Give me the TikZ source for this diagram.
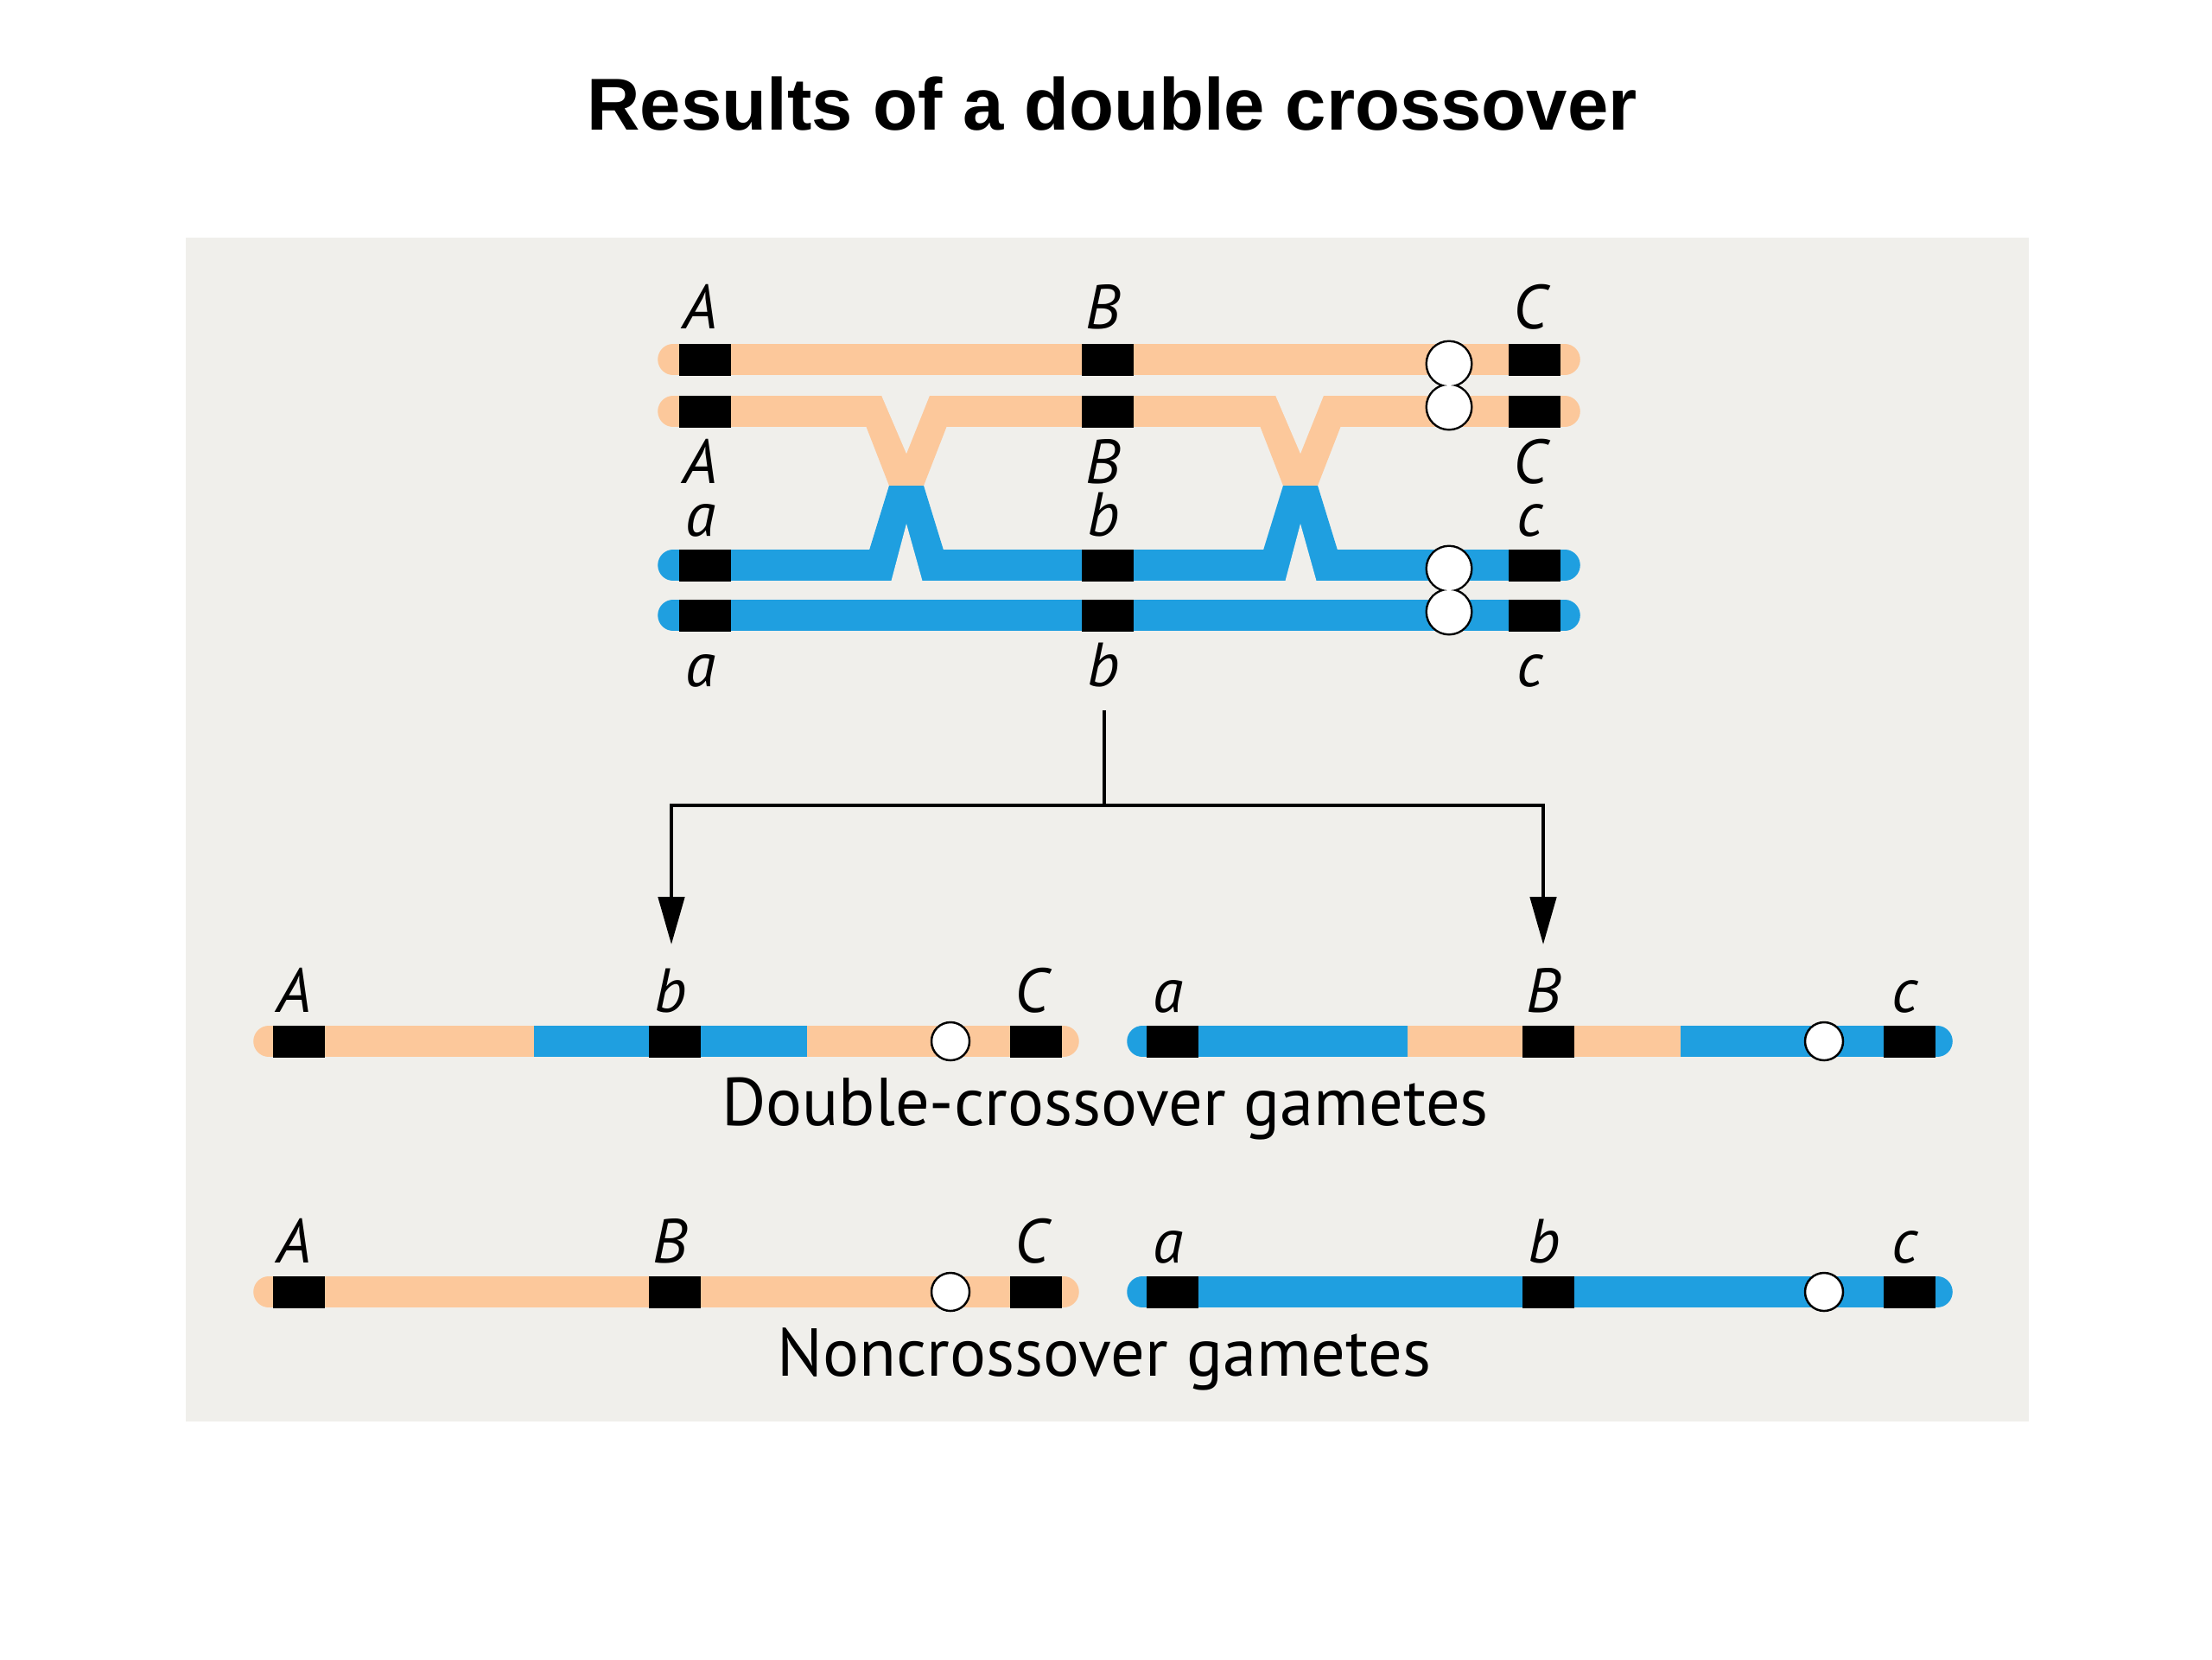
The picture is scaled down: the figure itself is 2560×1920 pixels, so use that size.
\documentclass[tikz,border=0pt]{standalone}
\usepackage{fontspec}
\setmainfont{PT Sans}
\newfontfamily\titlefont{Liberation Sans}
\usetikzlibrary{positioning, calc, arrows.meta}

\definecolor{paternal}{HTML}{FCC89B}
\definecolor{maternal}{HTML}{1F9FE0}
\definecolor{panel}{HTML}{F0EFEB}

\tikzset{
	strand/.style={line width=0.355cm, line cap=round},
	segment/.style={line width=0.355cm, line cap=butt},
	locus/.style={fill=black, inner sep=0pt, minimum width=0.60cm, minimum height=0.37cm},
	allele/.style={inner sep=0pt, text height=0.48cm, text depth=0pt,
		font=\fontsize{20.5}{24}\selectfont\itshape, xshift=-0.05cm},
	centromere/.style={draw=black, fill=white, line width=0.7pt},
	caption/.style={font=\fontsize{22.3}{26}\selectfont, anchor=base, inner sep=0pt},
	link/.style={line width=1.3pt},
}

% one chiasma: orange V above, blue V below, centred at x = #1
\newcommand{\chiasma}[1]{%
	\fill[paternal] ({#1-48},490) -- ({#1-20},562) -- ({#1+20},562) -- ({#1+48},490) -- cycle;
	\fill[panel] ({#1-30},455) -- (#1,525) -- ({#1+28},455) -- cycle;
	\fill[maternal] ({#1-44},640) -- ({#1-20},562) -- ({#1+20},562) -- ({#1+44},640) -- cycle;
	\fill[panel] ({#1-18},674) -- (#1,606) -- ({#1+19},674) -- cycle;
}

\begin{document}
\begin{tikzpicture}
		[x=0.01cm, y=-0.01cm]
		\useasboundingbox (0,0) rectangle (2560,1920);
		\fill[panel] (215,275) rectangle (2348,1645);
		\node[font=\titlefont\fontsize{24.2}{29}\selectfont\bfseries, anchor=base, inner sep=0pt]
			(title) at (1287,150) {Results of a double crossover};
		
		% tetrad
		\draw[strand, paternal] (779,416) -- (1811,416);
		\draw[strand, paternal] (779,476) -- (1811,476);
		\draw[strand, maternal] (779,654) -- (1811,654);
		\draw[strand, maternal] (779,712) -- (1811,712);
		\chiasma{1049}
		\chiasma{1505}
		
		\node[locus] (p1A) at (816,416) {};
		\node[locus] (p1B) at (1282,416) {};
		\node[locus] (p1C) at (1776,416) {};
		\node[locus] (p2A) at (816,476) {};
		\node[locus] (p2B) at (1282,476) {};
		\node[locus] (p2C) at (1776,476) {};
		\node[locus] (m1a) at (816,654) {};
		\node[locus] (m1b) at (1282,654) {};
		\node[locus] (m1c) at (1776,654) {};
		\node[locus] (m2a) at (816,712) {};
		\node[locus] (m2b) at (1282,712) {};
		\node[locus] (m2c) at (1776,712) {};
		
		\draw[line width=1.4pt] (1677,421) circle[radius=0.25cm] (1677,471) circle[radius=0.25cm];
		\fill[white] (1677,421) circle[radius=0.25cm] (1677,471) circle[radius=0.25cm];
		\draw[line width=1.4pt] (1677,658) circle[radius=0.25cm] (1677,708) circle[radius=0.25cm];
		\fill[white] (1677,658) circle[radius=0.25cm] (1677,708) circle[radius=0.25cm];
		
		\node[allele, above=0.16cm of p1A] {A};
		\node[allele, above=0.16cm of p1B] {B};
		\node[allele, above=0.16cm of p1C] {C};
		\node[allele, below=0.16cm of p2A] {A};
		\node[allele, below=0.16cm of p2B] {B};
		\node[allele, below=0.16cm of p2C] {C};
		\node[allele, above=0.14cm of m1a] {a};
		\node[allele, above=0.14cm of m1b] {b};
		\node[allele, above=0.14cm of m1c] {c};
		\node[allele, below=0.15cm of m2a] {a};
		\node[allele, below=0.15cm of m2b] (m2b-label) {b};
		\node[allele, below=0.15cm of m2c] {c};
		
		% arrows to the gametes
		\coordinate (stem) at (1278,822);
		\coordinate (fork) at (1278,932);
		\coordinate (to dco) at (777,1093);
		\coordinate (to pco) at (1786,1093);
		\draw[link] (stem) -- (fork);
		\draw[link, -{Triangle[length=0.55cm, width=0.30cm]}] (fork) -| (to dco);
		\draw[link, -{Triangle[length=0.55cm, width=0.30cm]}] (fork) -| (to pco);
		
		% double-crossover gametes
		\draw[strand, paternal] (311,1205) -- (1231,1205);
		\draw[segment, maternal] (618,1205) -- (934,1205);
		\draw[strand, maternal] (1322,1205) -- (2242,1205);
		\draw[segment, paternal] (1629,1205) -- (1945,1205);
		\node[locus] (d1A) at (346,1205) {};
		\node[locus] (d1b) at (781,1205) {};
		\node[locus] (d1C) at (1199,1205) {};
		\node[locus] (d2a) at (1357,1205) {};
		\node[locus] (d2B) at (1792,1205) {};
		\node[locus] (d2c) at (2210,1205) {};
		\draw[centromere] (1100,1205) circle[radius=0.22cm];
		\draw[centromere] (2111,1205) circle[radius=0.22cm];
		\node[allele, above=0.14cm of d1A] {A};
		\node[allele, above=0.14cm of d1b] {b};
		\node[allele, above=0.14cm of d1C] {C};
		\node[allele, above=0.14cm of d2a] {a};
		\node[allele, above=0.14cm of d2B] {B};
		\node[allele, above=0.14cm of d2c] {c};
		\node[caption] (dco) at (1279,1302) {Double-crossover gametes};
		
		% noncrossover gametes
		\draw[strand, paternal] (311,1495) -- (1231,1495);
		\draw[strand, maternal] (1322,1495) -- (2242,1495);
		\node[locus] (n1A) at (346,1495) {};
		\node[locus] (n1B) at (781,1495) {};
		\node[locus] (n1C) at (1199,1495) {};
		\node[locus] (n2a) at (1357,1495) {};
		\node[locus] (n2b) at (1792,1495) {};
		\node[locus] (n2c) at (2210,1495) {};
		\draw[centromere] (1100,1495) circle[radius=0.22cm];
		\draw[centromere] (2111,1495) circle[radius=0.22cm];
		\node[allele, above=0.14cm of n1A] {A};
		\node[allele, above=0.14cm of n1B] {B};
		\node[allele, above=0.14cm of n1C] {C};
		\node[allele, above=0.14cm of n2a] {a};
		\node[allele, above=0.14cm of n2b] {b};
		\node[allele, above=0.14cm of n2c] {c};
		\node[caption] (nco) at (1278,1592) {Noncrossover gametes};
	\end{tikzpicture}
\end{document}
